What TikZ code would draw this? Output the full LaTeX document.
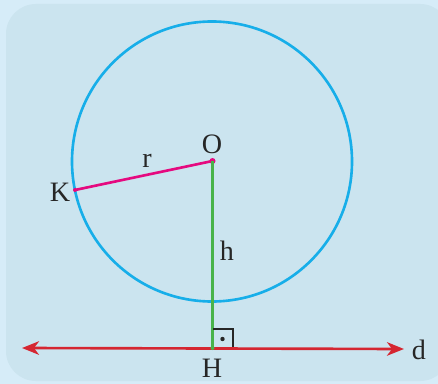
\documentclass[tikz,border=0pt]{standalone}
\usepackage{fontspec}
\setmainfont{Liberation Serif}
\usetikzlibrary{arrows.meta,positioning}
\definecolor{bgouter}{HTML}{D6ECF8}
\definecolor{bginner}{HTML}{CBE4EF}
\definecolor{circblue}{HTML}{17AEE9}
\definecolor{radpink}{HTML}{E5097F}
\definecolor{hgreen}{HTML}{48B34A}
\definecolor{linered}{HTML}{D52631}

\begin{document}
\begin{tikzpicture}[
    x=0.02cm, y=-0.02cm,
    lbl/.style={font=\fontsize{16}{18}\selectfont, text=black!85, inner sep=0pt},
    seg/.style={line width=1.5pt},
    dline/.style={seg, <->, >={Stealth[length=0.34cm, width=0.27cm, inset=0.1cm]}}
]

% fond
\useasboundingbox (0,0) rectangle (438,384);
\fill[bgouter] (0,0) rectangle (438,384);
\fill[bginner, rounded corners=0.6cm] (6,4) rectangle (450,381);

% points
\coordinate (O) at (212.5,161);
\coordinate (K) at (75,190);
\coordinate (H) at (212.5,348);
\coordinate (L) at (22,348);
\coordinate (R) at (404,349);

% cercle
\draw[seg, circblue] (212,161.5) circle[radius=140];

% droite d
\draw[dline, linered] (L) -- (R);

% rayon r
\draw[seg, radpink] (K) -- (O);
\fill[radpink] (O) circle[radius=3];
\fill[radpink] (K) circle[radius=2];

% distance h
\draw[seg, hgreen] (O) -- (H);
\fill[hgreen] (H) circle[radius=2];

% angle droit
\draw[line width=1.1pt, black!85] (213,329) -- (233,329) -- (233,347);
\fill[black!85] (222.5,339) circle[radius=2.2];

% étiquettes
\node[lbl] (labO) at (212,144) {O};
\node[lbl] (labK) at (60,192) {K};
\node[lbl] (labr) at (147,161) {r};
\node[lbl] (labh) at (227,251) {h};
\node[lbl] (labH) at (212,368) {H};
\node[lbl] (labd) at (419,350) {d};

\end{tikzpicture}
\end{document}
